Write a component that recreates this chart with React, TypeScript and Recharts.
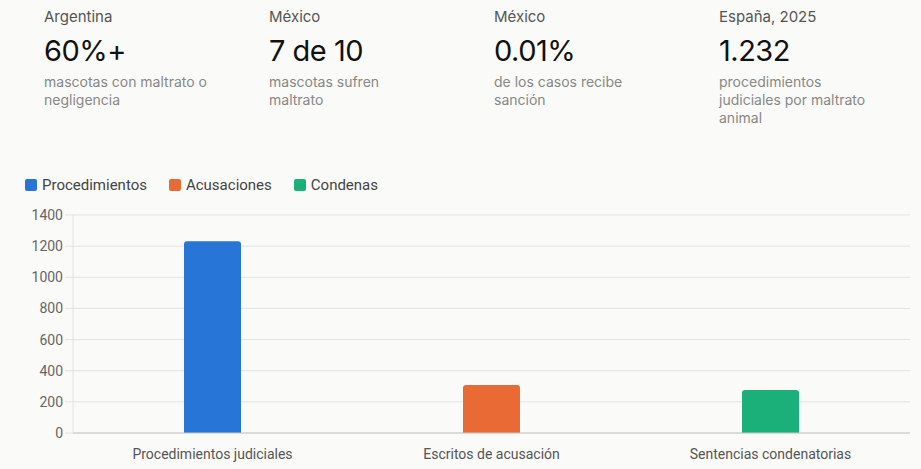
import React from 'react';
import { BarChart, Bar, XAxis, YAxis, CartesianGrid, Legend } from 'recharts';

const statPlaces = ['Argentina', 'México', 'México', 'España, 2025'];
const statFigures = ['60%+', '7 de 10', '0.01%', '1.232'];
const statNotes = [
  'mascotas con maltrato o negligencia',
  'mascotas sufren maltrato',
  'de los casos recibe sanción',
  'procedimientos judiciales por maltrato animal',
];

const categories = ['Procedimientos judiciales', 'Escritos de acusación', 'Sentencias condenatorias'];
const seriesNames = ['Procedimientos', 'Acusaciones', 'Condenas'];
const seriesValues = [1232, 308, 276];
const seriesColors = ['#2775d6', '#ea6a35', '#1baf7a'];
const yTicks = [0, 200, 400, 600, 800, 1000, 1200, 1400];

const chartData = categories.map((name, i) => {
  const row: Record<string, string | number | null> = { name };
  seriesNames.forEach((s, j) => {
    row[s] = i === j ? seriesValues[j] : null;
  });
  return row;
});

const LegendContent = ({ payload }: any) => {
  const items = [...(payload || [])].sort(
    (a: any, b: any) => seriesNames.indexOf(a.value) - seriesNames.indexOf(b.value)
  );
  return (
    <div style={{ display: 'flex', paddingLeft: 25, fontFamily: 'Roboto', fontSize: 15, color: '#444' }}>
      {items.map((p: any) => (
        <div key={p.value} style={{ display: 'flex', alignItems: 'center', marginRight: 22 }}>
          <span style={{ width: 12, height: 12, borderRadius: 2, background: p.color, marginRight: 5, display: 'inline-block' }} />
          <span>{p.value}</span>
        </div>
      ))}
    </div>
  );
};

export default function App() {
  return (
    <div style={{ position: 'absolute', left: 0, top: 0, width: 921, height: 469, background: '#fafaf8', overflow: 'hidden' }}>
      {statPlaces.map((place, i) => (
        <div key={i} style={{ position: 'absolute', left: 44 + i * 225, top: 6, width: 190, fontFamily: 'Inter' }}>
          <div style={{ fontSize: 15, color: '#555', lineHeight: '22px' }}>{place}</div>
          <div style={{ fontSize: 29, color: '#111', lineHeight: '36px', marginTop: 5, letterSpacing: -0.5 }}>{statFigures[i]}</div>
          <div style={{ fontSize: 14, color: '#888', lineHeight: '18px', marginTop: 4, width: 165 }}>{statNotes[i]}</div>
        </div>
      ))}
      <div style={{ position: 'absolute', left: 0, top: 165 }}>
        <BarChart width={921} height={304} data={chartData} margin={{ top: 11, right: 11, bottom: 6, left: 0 }} barSize={57}>
          <Legend verticalAlign="top" align="left" content={<LegendContent />} wrapperStyle={{ paddingBottom: 21 }} />
          <CartesianGrid vertical={false} stroke="#e3e3e1" />
          <XAxis
            dataKey="name"
            tickLine={false}
            axisLine={{ stroke: '#c8c8c6' }}
            tick={{ fill: '#555', fontSize: 14, fontFamily: 'Roboto' }}
            tickMargin={10}
            height={30}
          />
          <YAxis
            width={73}
            domain={[0, 1400]}
            ticks={yTicks}
            tickSize={8}
            tickLine={{ stroke: '#e3e3e1' }}
            axisLine={{ stroke: '#e3e3e1' }}
            tick={{ fill: '#666', fontSize: 14, fontFamily: 'Roboto' }}
          />
          {seriesNames.map((s, j) => (
            <Bar key={s} dataKey={s} stackId="a" fill={seriesColors[j]} radius={[3, 3, 0, 0]} isAnimationActive={false} />
          ))}
        </BarChart>
      </div>
    </div>
  );
}
